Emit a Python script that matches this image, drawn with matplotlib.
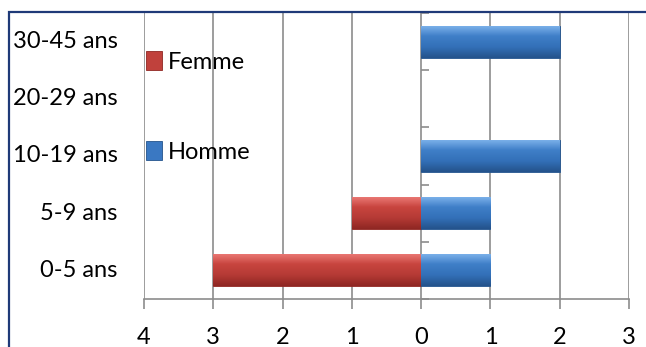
import numpy as np
import matplotlib
matplotlib.use('Agg')
import matplotlib.pyplot as plt
from matplotlib.patches import Rectangle
from matplotlib.colors import LinearSegmentedColormap
import matplotlib.transforms as mtransforms

plt.rcParams['font.family'] = ['Lato', 'DejaVu Sans']

# data
categories = ['0-5 ans', '5-9 ans', '10-19 ans', '20-29 ans', '30-45 ans']
homme = [1, 1, 2, 0, 2]
femme = [3, 1, 0, 0, 0]
xticks = [-4, -3, -2, -1, 0, 1, 2, 3]

red_cmap = LinearSegmentedColormap.from_list('r', ['#ec7b77', '#c8453f', '#b53a35', '#8f2723'])
blue_cmap = LinearSegmentedColormap.from_list('b', ['#7fb4ec', '#3f7fc8', '#3370b8', '#24538c'])

fs = 17

fig = plt.figure(figsize=(6.46, 3.47), dpi=100)
ax = fig.add_axes([144/646, 48/347, 485/646, 286/347])

y = np.arange(len(categories))
bars_f = ax.barh(y, [-v for v in femme], height=0.56, color='#c0413c', edgecolor='#8f2723', lw=0.6, label='Femme', zorder=3)
bars_h = ax.barh(y, homme, height=0.56, color='#3a78c2', edgecolor='#24538c', lw=0.6, label='Homme', zorder=3)

# bevel-ish gradient over each bar
grad = np.linspace(0, 1, 64).reshape(-1, 1)
for bars, cmap in ((bars_f, red_cmap), (bars_h, blue_cmap)):
    for b in bars:
        if b.get_width() == 0:
            b.set_linewidth(0)
            continue
        x0, y0 = b.get_x(), b.get_y()
        x1, y1 = x0 + b.get_width(), y0 + b.get_height()
        im = ax.imshow(grad, cmap=cmap, aspect='auto', extent=(min(x0, x1), max(x0, x1), y0, y1),
                       origin='upper', zorder=3.5)
        im.set_clip_path(b)

ax.set_xlim(-4, 3)
ax.set_ylim(-0.5, len(categories) - 0.5)
ax.set_xticks(xticks)
ax.set_xticklabels([str(abs(t)) for t in xticks], fontsize=fs)
ax.tick_params(axis='x', length=7, color='#8c8c8c', width=1.2, pad=13)
ax.grid(axis='x', color='#8c8c8c', lw=1.2, zorder=0)
ax.set_yticks([])
for s in ['top', 'right', 'left']:
    ax.spines[s].set_visible(False)
ax.spines['bottom'].set_color('#8c8c8c')
ax.spines['bottom'].set_linewidth(1.2)

# category axis at x = 0 with ticks between categories
sec = ax.secondary_yaxis(4/7)
sec.set_yticks(np.arange(len(categories) + 1) - 0.5)
sec.set_yticklabels([])
sec.tick_params(length=6, color='#8c8c8c', width=1.2, direction='out')
sec.spines['left'].set_color('#8c8c8c')
sec.spines['right'].set_visible(False)

trans = mtransforms.blended_transform_factory(ax.transAxes, ax.transData)
for yi, c in zip(y, categories):
    ax.text(-0.054, yi, c, transform=trans, ha='right', va='center', fontsize=fs)

ax.legend(handles=[bars_f, bars_h], loc='upper left', bbox_to_anchor=(0.005, 0.866),
          frameon=False, fontsize=fs, labelspacing=2.9, handlelength=0.65,
          handleheight=0.85, handletextpad=0.25, borderpad=0, borderaxespad=0)

# outer frame
fig.add_artist(Rectangle((9/646, -0.05), 1.2, (335/347) + 0.05, transform=fig.transFigure,
                         fill=False, edgecolor='#1f3a78', lw=1.6))

fig.savefig('out.png', dpi=100)
